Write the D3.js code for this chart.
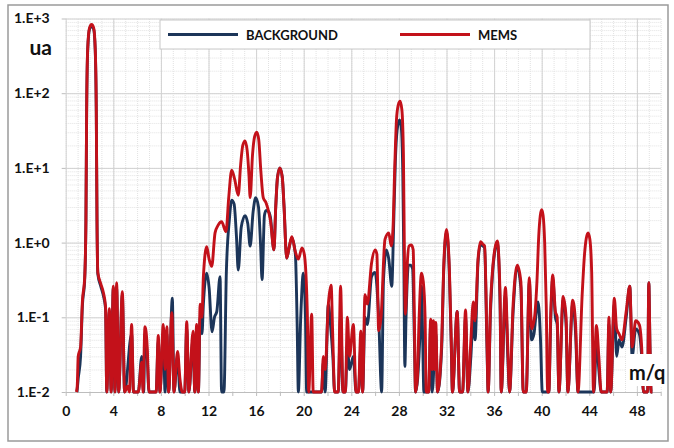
<!DOCTYPE html>
<html>
<head>
<meta charset="utf-8">
<script src="https://cdn.jsdelivr.net/npm/d3@7"></script>
<style>
  body { margin: 0; background: #fff; }
  svg { display: block; }
  text { font-family: Lato, "Open Sans", sans-serif; font-weight: 700; fill: #111; }
</style>
</head>
<body>
<div id="chart"></div>
<script>
// m/q ticks and log ticks
const xTicks = [0, 4, 8, 12, 16, 20, 24, 28, 32, 36, 40, 44, 48];
const yTicks = [0.01, 0.1, 1, 10, 100, 1000];
const yTickLabels = ["1.E-2", "1.E-1", "1.E+0", "1.E+1", "1.E+2", "1.E+3"];
const seriesNames = ["BACKGROUND", "MEMS"];

// [m/q, intensity in ua]; 0 = below 1.E-2
const background = [
  [0.95, 0], [1.05, 0.015], [1.25, 0.03], [1.4, 0.14], [1.6, 0.33], [1.7, 2], [1.76, 55], [1.85, 380],
  [2.0, 720], [2.18, 790], [2.35, 720], [2.48, 380], [2.57, 55], [2.63, 2], [2.7, 0.38], [2.95, 0.26],
  [3.15, 0.2], [3.35, 0.13], [3.45, 0], [3.67, 0.12], [3.82, 0], [4.0, 0.25], [4.14, 0], [4.28, 0.25],
  [4.45, 0], [4.76, 0.2], [4.95, 0], [5.54, 0.06], [5.7, 0], [6.1, 0], [6.39, 0.03], [6.55, 0],
  [6.66, 0.06], [6.85, 0.03], [7.0, 0], [7.6, 0], [7.78, 0.05], [7.92, 0], [8.2, 0.06], [8.35, 0],
  [8.5, 0.06], [8.65, 0], [8.96, 0.18], [9.1, 0], [9.4, 0.03], [9.6, 0], [10.0, 0], [10.17, 0.07],
  [10.35, 0], [10.7, 0.05], [10.85, 0], [11.0, 0.06], [11.15, 0], [11.3, 0.1], [11.45, 0.06],
  [11.57, 0.15], [11.85, 0.39], [12.05, 0.25], [12.3, 0.064], [12.5, 0.1], [12.7, 0.12], [12.97, 0.35],
  [13.1, 0], [13.3, 0], [13.5, 0.4], [13.75, 2], [13.95, 3.7], [14.15, 3.3], [14.35, 1.2], [14.5, 0.43],
  [14.75, 1.6], [15.07, 2.3], [15.3, 1.8], [15.5, 0.9], [15.75, 2.6], [15.97, 4], [16.2, 3], [16.38, 0.9],
  [16.5, 0.32], [16.7, 2.3], [16.84, 2.7], [17.05, 2.6], [17.2, 2.2], [17.5, 0.8], [17.65, 3], [17.8, 7.5],
  [18.0, 10], [18.2, 7.5], [18.35, 3], [18.57, 0.62], [18.8, 0.9], [19.0, 1.15], [19.3, 0.7],
  [19.45, 0.08], [19.55, 0], [19.75, 0.1], [19.97, 0.39], [20.15, 0.1], [20.25, 0], [21.5, 0],
  [21.65, 0.025], [21.8, 0], [22.07, 0.15], [22.25, 0.08], [22.45, 0.03], [22.6, 0], [22.9, 0],
  [23.1, 0.1], [23.3, 0], [23.5, 0], [23.67, 0.04], [23.85, 0.02], [24.17, 0.03], [24.4, 0], [24.6, 0],
  [24.8, 0.04], [24.95, 0], [25.15, 0.1], [25.35, 0.08], [25.7, 0.35], [26.0, 0.4], [26.3, 0.1],
  [26.55, 0], [26.7, 0.3], [26.95, 0.8], [27.15, 0.6], [27.4, 0.26], [27.55, 1.5], [27.7, 12],
  [27.85, 32], [28.05, 44], [28.2, 35], [28.33, 8], [28.42, 0.5], [28.5, 0.022], [28.6, 0.1],
  [28.8, 0.5], [28.95, 0.5], [29.15, 0.45], [29.3, 0.05], [29.4, 0], [29.75, 0.05], [29.9, 0.26],
  [30.0, 0.05], [30.1, 0], [30.5, 0], [30.67, 0.08], [30.8, 0], [31.1, 0.06], [31.25, 0], [31.6, 0.04],
  [31.75, 0.35], [31.88, 1.0], [32.0, 1.4], [32.12, 1.0], [32.25, 0.35], [32.4, 0.04], [32.5, 0],
  [32.9, 0.12], [33.1, 0], [33.35, 0], [33.6, 0.1], [33.8, 0], [34.05, 0.03], [34.25, 0.1], [34.4, 0.05],
  [34.65, 0.55], [34.86, 0.95], [35.05, 0.9], [35.2, 0.85], [35.4, 0.04], [35.5, 0], [35.7, 0.12],
  [35.85, 0.35], [36.05, 0.75], [36.27, 1.0], [36.5, 0.15], [36.6, 0], [36.95, 0.2], [37.15, 0.03],
  [37.3, 0], [37.6, 0.12], [37.95, 0.45], [38.25, 0.25], [38.45, 0], [38.7, 0], [38.96, 0.3],
  [39.15, 0.05], [39.35, 0.06], [39.5, 0.1], [39.7, 0.16], [39.9, 0.05], [40.05, 0], [40.6, 0],
  [40.75, 0.08], [40.93, 0.33], [41.15, 0.1], [41.3, 0.08], [41.45, 0], [41.8, 0.17], [42.05, 0.08],
  [42.2, 0], [42.6, 0.15], [42.85, 0.06], [43.05, 0], [44.4, 0], [44.6, 0.05], [44.8, 0.02], [45.0, 0],
  [45.5, 0], [45.65, 0.08], [45.8, 0], [46.1, 0.15], [46.3, 0.03], [46.5, 0.05], [46.75, 0.04],
  [47.1, 0.1], [47.4, 0.26], [47.6, 0.03], [47.9, 0.07], [48.2, 0.06], [48.4, 0.03], [48.55, 0],
  [48.9, 0], [49.0, 0.29], [49.1, 0.04], [49.2, 0], [49.3, 0]
];

const mems = [
  [0.9, 0], [0.97, 0.012], [1.05, 0.03], [1.25, 0.04], [1.4, 0.16], [1.6, 0.35], [1.7, 2], [1.76, 60],
  [1.85, 400], [2.0, 750], [2.18, 830], [2.35, 750], [2.48, 400], [2.57, 60], [2.63, 2], [2.7, 0.4],
  [2.95, 0.28], [3.15, 0.22], [3.35, 0.14], [3.45, 0], [3.67, 0.13], [3.82, 0], [4.0, 0.26], [4.14, 0],
  [4.28, 0.29], [4.45, 0], [4.76, 0.22], [4.95, 0], [5.2, 0.012], [5.35, 0], [5.54, 0.08], [5.7, 0],
  [6.1, 0], [6.39, 0.025], [6.5, 0.01], [6.66, 0.075], [6.85, 0.04], [7.0, 0], [7.6, 0], [7.78, 0.057],
  [7.92, 0], [8.2, 0.08], [8.35, 0.02], [8.5, 0.075], [8.65, 0], [8.92, 0.115], [9.1, 0], [9.4, 0.035],
  [9.6, 0.015], [9.8, 0], [10.0, 0], [10.17, 0.087], [10.35, 0], [10.7, 0.065], [10.85, 0], [11.0, 0.08],
  [11.15, 0], [11.3, 0.15], [11.45, 0.1], [11.57, 0.35], [11.85, 0.88], [12.05, 0.6], [12.27, 0.48],
  [12.55, 1.35], [12.8, 1.7], [13.1, 1.9], [13.47, 1.4], [13.7, 4], [13.95, 9.3], [14.2, 7], [14.5, 4.3],
  [14.7, 11], [14.88, 20], [15.07, 23], [15.25, 17], [15.4, 8], [15.5, 4], [15.7, 15], [15.87, 26],
  [16.05, 30], [16.22, 24], [16.4, 9], [16.6, 4], [16.84, 3.4], [17.0, 2.8], [17.2, 2.0], [17.5, 0.8],
  [17.65, 3], [17.8, 7.5], [18.0, 10], [18.2, 7.5], [18.35, 3], [18.57, 0.62], [18.8, 0.9], [19.0, 1.2],
  [19.3, 0.75], [19.55, 0.6], [19.85, 0.85], [20.05, 0.7], [20.3, 0.12], [20.42, 0], [20.67, 0.11],
  [20.8, 0], [21.5, 0], [21.65, 0.03], [21.8, 0.02], [22.07, 0.15], [22.3, 0.27], [22.45, 0.05],
  [22.6, 0], [22.9, 0], [23.1, 0.26], [23.3, 0], [23.5, 0], [23.67, 0.1], [23.85, 0.03], [24.17, 0.08],
  [24.4, 0], [24.6, 0], [24.8, 0.065], [24.95, 0], [25.15, 0.2], [25.35, 0.15], [25.7, 0.53],
  [26.0, 0.8], [26.15, 0.7], [26.3, 0.066], [26.5, 0.1], [26.83, 1.1], [27.15, 1.35], [27.35, 0.9],
  [27.5, 1.5], [27.65, 10], [27.8, 45], [27.95, 70], [28.1, 78], [28.25, 60], [28.38, 15], [28.47, 0.5],
  [28.55, 0.11], [28.7, 0.5], [28.85, 0.9], [29.05, 0.93], [29.2, 0.8], [29.3, 0.1], [29.4, 0],
  [29.55, 0.015], [29.7, 0.1], [29.9, 0.39], [30.05, 0.3], [30.2, 0.1], [30.3, 0], [30.5, 0],
  [30.67, 0.094], [30.8, 0.02], [30.9, 0.09], [31.0, 0.02], [31.1, 0.085], [31.25, 0], [31.6, 0.05],
  [31.75, 0.4], [31.88, 1.1], [32.0, 1.5], [32.12, 1.1], [32.25, 0.4], [32.4, 0.05], [32.5, 0],
  [32.9, 0.12], [33.1, 0], [33.35, 0], [33.6, 0.125], [33.8, 0], [34.05, 0.05], [34.25, 0.16],
  [34.4, 0.09], [34.65, 0.6], [34.86, 1.03], [35.05, 0.95], [35.2, 0.9], [35.4, 0.05], [35.5, 0],
  [35.7, 0.15], [35.85, 0.39], [36.05, 0.8], [36.27, 1.05], [36.5, 0.2], [36.6, 0], [36.95, 0.25],
  [37.15, 0.04], [37.3, 0], [37.6, 0.15], [37.95, 0.5], [38.25, 0.3], [38.45, 0], [38.7, 0],
  [38.96, 0.34], [39.15, 0.07], [39.4, 0.1], [39.6, 0.3], [39.75, 1.2], [39.88, 2.3], [40.0, 2.75],
  [40.12, 2.3], [40.25, 1.0], [40.38, 0.15], [40.5, 0], [40.6, 0], [40.75, 0.1], [40.93, 0.37],
  [41.15, 0.12], [41.3, 0.1], [41.45, 0], [41.8, 0.19], [42.05, 0.1], [42.2, 0], [42.6, 0.17],
  [42.85, 0.08], [43.05, 0], [43.4, 0.2], [43.6, 0.7], [43.75, 1.15], [43.9, 1.35], [44.05, 1.1],
  [44.2, 0.4], [44.35, 0], [44.6, 0.078], [44.8, 0.03], [45.0, 0], [45.5, 0], [45.65, 0.1], [45.8, 0],
  [46.1, 0.18], [46.3, 0.07], [46.5, 0.06], [46.75, 0.05], [47.1, 0.12], [47.4, 0.26], [47.6, 0.04],
  [47.9, 0.09], [48.2, 0.08], [48.4, 0.04], [48.55, 0], [48.9, 0], [49.0, 0.29], [49.1, 0.04],
  [49.2, 0], [49.3, 0]
];

const colors = ["#1c3559", "#c3111a"];

const width = 674;
const height = 448;
const plot = { left: 65.7, right: 660.7, top: 18.5, bottom: 392 };

const svg = d3.select("#chart")
  .append("svg")
  .attr("width", width)
  .attr("height", height);

const x = d3.scaleLinear().domain([0, 50]).range([plot.left, plot.right]);
const y = d3.scaleLog().domain([0.01, 1000]).range([plot.bottom, plot.top]).clamp(true);

// outer frame
svg.append("rect")
  .attr("x", 8).attr("y", 5)
  .attr("width", 660).attr("height", 436)
  .attr("fill", "#fff")
  .attr("stroke", "#9a9a9a")
  .attr("stroke-width", 1.5);

// minor grid
svg.append("g")
  .attr("transform", `translate(0,${plot.bottom})`)
  .call(d3.axisBottom(x).tickValues(x.ticks(50)).tickSize(-(plot.bottom - plot.top)).tickFormat(""))
  .call(g => g.select(".domain").remove())
  .call(g => g.selectAll("line").attr("stroke", "#e2e2e2").attr("stroke-dasharray", "1,1"));

svg.append("g")
  .attr("transform", `translate(${plot.left},0)`)
  .call(d3.axisLeft(y).tickValues(y.ticks()).tickSize(-(plot.right - plot.left)).tickFormat(""))
  .call(g => g.select(".domain").remove())
  .call(g => g.selectAll("line").attr("stroke", "#e2e2e2").attr("stroke-dasharray", "1,1"));

// major grid
svg.append("g")
  .attr("transform", `translate(0,${plot.bottom})`)
  .call(d3.axisBottom(x).tickValues(xTicks).tickSize(-(plot.bottom - plot.top)).tickFormat(""))
  .call(g => g.select(".domain").remove())
  .call(g => g.selectAll("line").attr("stroke", "#d2d2d2"));

svg.append("g")
  .attr("transform", `translate(${plot.left},0)`)
  .call(d3.axisLeft(y).tickValues(yTicks).tickSize(-(plot.right - plot.left)).tickFormat(""))
  .call(g => g.select(".domain").remove())
  .call(g => g.selectAll("line").attr("stroke", "#d2d2d2"));

// x axis with minor ticks
svg.append("g")
  .attr("transform", `translate(0,${plot.bottom})`)
  .call(d3.axisBottom(x).tickValues(x.ticks(25)).tickSize(4).tickFormat("").tickSizeOuter(0))
  .call(g => g.select(".domain").attr("stroke", "#bdbdbd"))
  .call(g => g.selectAll("line").attr("stroke", "#bdbdbd"));

svg.append("g")
  .attr("transform", `translate(0,${plot.bottom + 8})`)
  .call(d3.axisBottom(x).tickValues(xTicks).tickSize(0).tickPadding(0))
  .call(g => g.select(".domain").remove())
  .call(g => g.selectAll("text")
    .attr("dy", "1.15em")
    .style("font-family", "Lato, 'Open Sans', sans-serif")
    .style("font-weight", 700)
    .style("font-size", "14px")
    .attr("fill", "#111"));

svg.append("g")
  .attr("transform", `translate(${plot.left},0)`)
  .call(d3.axisLeft(y).tickValues(yTicks).tickSize(4).tickPadding(12).tickFormat((d, i) => yTickLabels[i]))
  .call(g => g.select(".domain").remove())
  .call(g => g.selectAll("line").attr("stroke", "#bdbdbd"))
  .call(g => g.selectAll("text")
    .style("font-family", "Lato, 'Open Sans', sans-serif")
    .style("font-weight", 700)
    .style("font-size", "14px")
    .attr("fill", "#111"));

// series
const line = d3.line()
  .x(d => x(d[0]))
  .y(d => y(d[1]))
  .curve(d3.curveMonotoneX);

[background, mems].forEach((series, i) => {
  svg.append("path")
    .datum(series)
    .attr("fill", "none")
    .attr("stroke", colors[i])
    .attr("stroke-width", 2.9)
    .attr("stroke-linejoin", "round")
    .attr("d", line);
});

// legend
const legend = svg.append("g");
legend.append("rect")
  .attr("x", 160).attr("y", 20)
  .attr("width", 430).attr("height", 29)
  .attr("fill", "#fff")
  .attr("stroke", "#c8c8c8");

const legendX = [168, 400];
seriesNames.forEach((name, i) => {
  legend.append("line")
    .attr("x1", legendX[i]).attr("x2", legendX[i] + 70)
    .attr("y1", 34.5).attr("y2", 34.5)
    .attr("stroke", colors[i])
    .attr("stroke-width", 3);
  legend.append("text")
    .attr("x", legendX[i] + 78).attr("y", 39.5)
    .style("font-size", "13px")
    .text(name);
});

// axis titles
svg.append("text")
  .attr("x", 52).attr("y", 55)
  .attr("text-anchor", "end")
  .style("font-size", "21px")
  .text("ua");

svg.append("rect")
  .attr("x", 626).attr("y", 354)
  .attr("width", 41).attr("height", 32)
  .attr("fill", "#fff");

svg.append("text")
  .attr("x", 629).attr("y", 380)
  .style("font-size", "20px")
  .text("m/q");
</script>
</body>
</html>
